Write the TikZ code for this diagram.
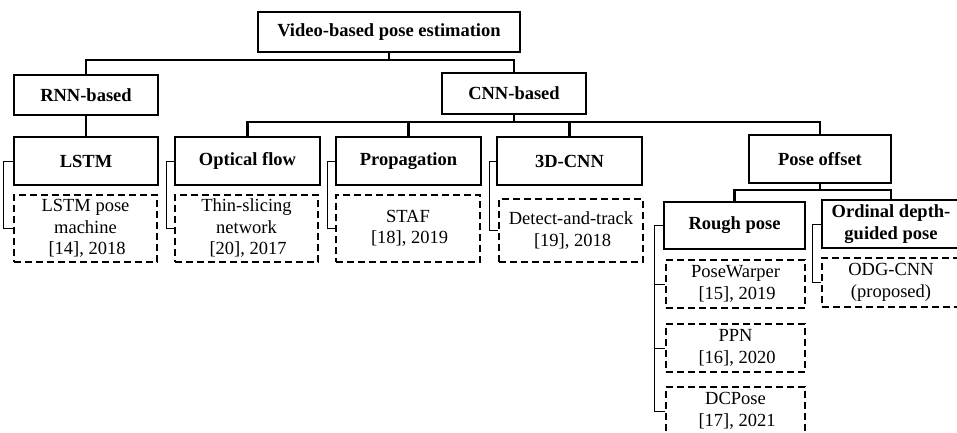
\documentclass[tikz,border=0pt]{standalone}
\usepackage{fontspec}
\setmainfont{Liberation Serif}
\begin{document}
\begin{tikzpicture}[x=1pt,y=-1pt,
  every node/.style={inner sep=0pt,align=center,font=\fontsize{18.5}{21.5}\selectfont},
  bbox/.style={draw,line width=2.4pt,font=\fontsize{18.5}{21.5}\selectfont\bfseries},
  dbox/.style={draw,line width=1.1pt,dash pattern=on 7pt off 4pt},
  conn/.style={line width=2.4pt},
  brk/.style={line width=0.9pt}]
\useasboundingbox (0,0) rectangle (957,433);
% bold boxes
\node[bbox,minimum width=262pt,minimum height=40pt] (top) at (389,32) {Video-based pose estimation};
\node[bbox,minimum width=144pt,minimum height=40pt] (rnn) at (86,95) {RNN-based};
\node[bbox,minimum width=144pt,minimum height=41pt] (cnn) at (514,93.5) {CNN-based};
\node[bbox,minimum width=144pt,minimum height=48pt] (lstm) at (86,161) {LSTM};
\node[bbox,minimum width=145pt,minimum height=48pt] (opt) at (247.5,161) {Optical flow};
\node[bbox,minimum width=145pt,minimum height=48pt] (prop) at (408.5,161) {Propagation};
\node[bbox,minimum width=145pt,minimum height=48pt] (tdc) at (569.5,161) {3D-CNN};
\node[bbox,minimum width=142pt,minimum height=48pt] (poff) at (820,159) {Pose offset};
\node[bbox,minimum width=141pt,minimum height=47pt] (rough) at (734.5,225.5) {Rough pose};
\node[bbox,minimum width=138pt,minimum height=48pt] (ord) at (891,224) {Ordinal depth-\\guided pose};
% dashed boxes
\node[dbox,minimum width=143pt,minimum height=67pt] (d1) at (85.5,228.5) {LSTM pose\\machine\\\,[14], 2018};
\node[dbox,minimum width=143pt,minimum height=67pt] (d2) at (246.5,228.5) {Thin-slicing\\network\\\,[20], 2017};
\node[dbox,minimum width=144pt,minimum height=67pt] (d3) at (408,228.5) {STAF\\\,[18], 2019};
\node[dbox,minimum width=144pt,minimum height=63pt] (d4) at (571,230.5) {Detect-and-track\\\,[19], 2018};
\node[dbox,minimum width=139pt,minimum height=48pt] (pw) at (735.5,284) {PoseWarper\\\,[15], 2019};
\node[dbox,minimum width=139pt,minimum height=48pt] (ppn) at (735.5,348) {PPN\\\,[16], 2020};
\node[dbox,minimum width=139pt,minimum height=48pt] (dcp) at (735.5,411) {DCPose\\\,[17], 2021};
\node[dbox,minimum width=138pt,minimum height=49pt] (odg) at (891,282.5) {ODG-CNN\\(proposed)};
% bus coordinates
\coordinate (b1) at (0,60);
\coordinate (b2) at (0,122);
\coordinate (b3) at (0,190);
% connectors
\draw[conn] (top.south) -- (top.south |- b1) -| (rnn.north);
\draw[conn] (top.south |- b1) -| (cnn.north);
\draw[conn] (rnn.south) -- (lstm.north);
\draw[conn] (cnn.south) -- (cnn.south |- b2) -| (opt.north);
\draw[conn] (cnn.south |- b2) -| (prop.north);
\draw[conn] (cnn.south |- b2) -| (tdc.north);
\draw[conn] (cnn.south |- b2) -| (poff.north);
\draw[conn] (poff.south) -- (poff.south |- b3) -| (rough.north);
\draw[conn] (poff.south |- b3) -| (ord.north);
% brackets
\draw[brk] (lstm.west) -- ++(-9,0) |- (d1.west);
\draw[brk] (opt.west) -- ++(-7,0) |- (d2.west);
\draw[brk] (prop.west) -- ++(-7,0) |- (d3.west);
\draw[brk] (tdc.west) -- ++(-6,0) |- (d4.west);
\draw[brk] (rough.west) -- ++(-8,0) coordinate (rk) |- (dcp.west);
\draw[brk] (rk) |- (pw.west);
\draw[brk] (rk) |- (ppn.west);
\draw[brk] (ord.west) -- ++(-8,0) |- (odg.west);
\end{tikzpicture}
\end{document}
